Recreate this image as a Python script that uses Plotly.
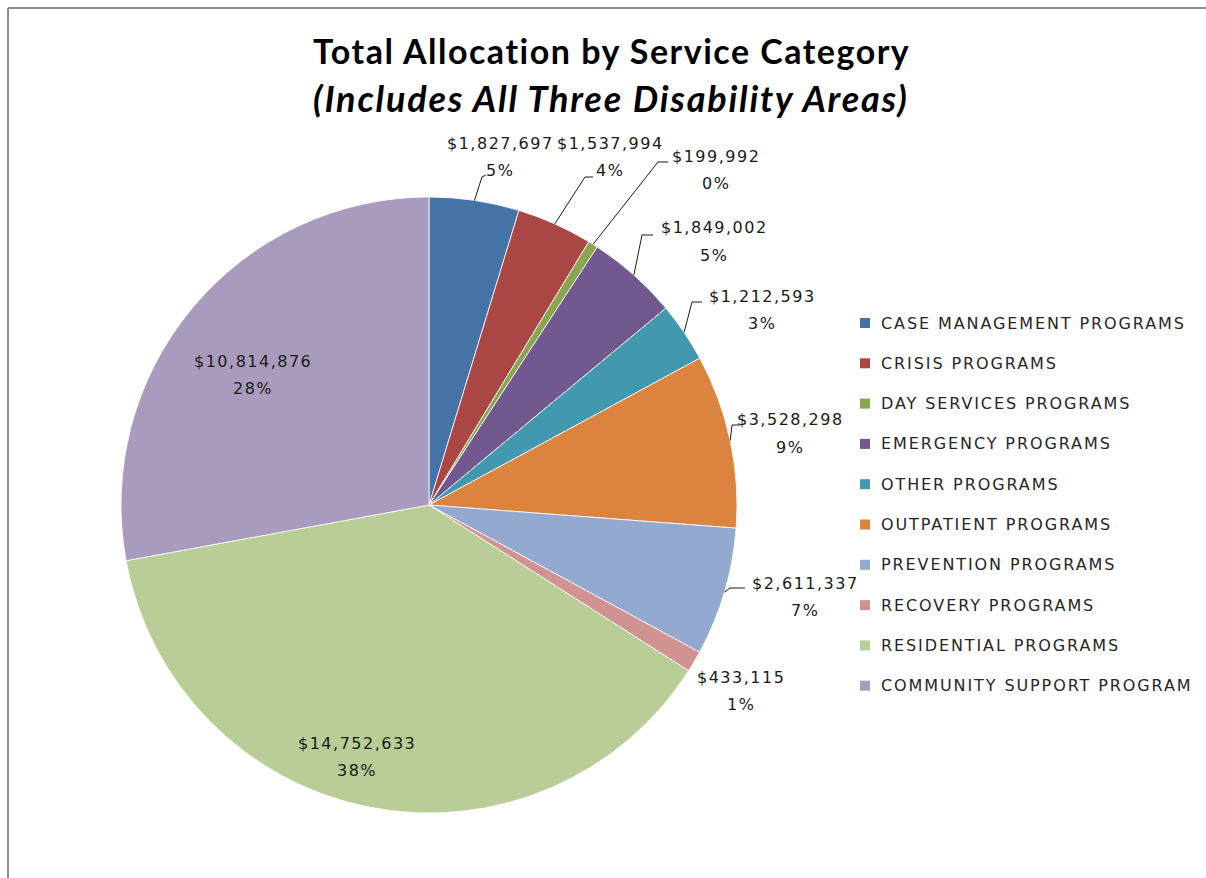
import math
import plotly.graph_objects as go

W, H = 1206, 878

# Service categories, allocations and the rounded shares shown on the chart
categories = [
    "CASE MANAGEMENT PROGRAMS",
    "CRISIS PROGRAMS",
    "DAY SERVICES PROGRAMS",
    "EMERGENCY PROGRAMS",
    "OTHER PROGRAMS",
    "OUTPATIENT PROGRAMS",
    "PREVENTION PROGRAMS",
    "RECOVERY PROGRAMS",
    "RESIDENTIAL PROGRAMS",
    "COMMUNITY SUPPORT PROGRAM",
]
allocations = [1827697, 1537994, 199992, 1849002, 1212593,
               3528298, 2611337, 433115, 14752633, 10814876]
pct_labels = ["5%", "4%", "0%", "5%", "3%", "9%", "7%", "1%", "38%", "28%"]

colors = ["#4572A7", "#AA4643", "#89A54E", "#71588F", "#4198AF",
          "#DB843D", "#93A9CF", "#D19392", "#B9CD96", "#A99BBD"]

# Pie placement in pixels
CX, CY, R = 429, 505, 308

# Label block centres (value line) in pixels, and leader line elbow/end points
label_pos = [(500, 143), (610, 143), (716, 156), (714, 228), (762, 296),
             (790, 420), (805, 583), (741, 677), (357, 743), (253, 362)]
leaders = {
    0: [(482, 177), (486, 175)],
    1: [(585, 177), (593, 177)],
    2: [(658, 162), (668, 162)],
    3: [(642, 235), (653, 235)],
    4: [(692, 302), (702, 302)],
    5: [(732, 425), (740, 425)],
    6: [(730, 588), (745, 588)],
}
LINE_GAP = 27


def px(x):
    return x / W


def py(y):
    return 1 - y / H


def spaced(text, gap):
    return f'<span style="letter-spacing:{gap}px">{text}</span>'


fig = go.Figure(
    go.Pie(
        labels=categories,
        values=allocations,
        sort=False,
        direction="clockwise",
        rotation=0,
        marker=dict(colors=colors, line=dict(color="white", width=0.8)),
        textinfo="none",
        hoverinfo="label+value+percent",
        showlegend=False,
        domain=dict(x=[px(CX - R), px(CX + R)], y=[py(CY + R), py(CY - R)]),
    )
)

label_font = dict(family="DejaVu Sans", size=16, color="#1a1a1a")
annotations = []
shapes = []

total = sum(allocations)
cum = 0.0
for i, v in enumerate(allocations):
    mid = (cum + v / 2) / total
    cum += v
    lx, ly = label_pos[i]
    annotations.append(dict(x=px(lx), y=py(ly), xref="paper", yref="paper",
                            text=spaced(f"${v:,}", 1.5), showarrow=False, font=label_font,
                            xanchor="center", yanchor="middle"))
    annotations.append(dict(x=px(lx), y=py(ly + LINE_GAP), xref="paper", yref="paper",
                            text=spaced(pct_labels[i], 1.5), showarrow=False, font=label_font,
                            xanchor="center", yanchor="middle"))
    if i in leaders:
        ang = 2 * math.pi * mid
        ax = CX + R * math.sin(ang)
        ay = CY - R * math.cos(ang)
        pts = [(ax, ay)] + leaders[i]
        path = "M " + " L ".join(f"{px(x):.5f},{py(y):.5f}" for x, y in pts)
        shapes.append(dict(type="path", path=path, xref="paper", yref="paper",
                           line=dict(color="#1a1a1a", width=1)))

# Legend: colour squares and category names
LEG_X, LEG_Y0, LEG_DY, SQ = 860, 323, 40.3, 10
for i, name in enumerate(categories):
    yc = LEG_Y0 + i * LEG_DY
    shapes.append(dict(type="rect", xref="paper", yref="paper",
                       x0=px(LEG_X), x1=px(LEG_X + SQ),
                       y0=py(yc + SQ / 2), y1=py(yc - SQ / 2),
                       fillcolor=colors[i], line=dict(width=0)))
    annotations.append(dict(x=px(LEG_X + 19), y=py(yc), xref="paper", yref="paper",
                            text=spaced(name, 1.9),
                            showarrow=False, xanchor="left", yanchor="middle",
                            font=dict(family="DejaVu Sans", size=16, color="#262626")))

# Title lines
annotations.append(dict(x=px(611), y=py(50), xref="paper", yref="paper",
                        text=spaced("<b>Total Allocation by Service Category</b>", 1.5),
                        showarrow=False, xanchor="center", yanchor="middle",
                        font=dict(family="Lato", size=34, color="#000000")))
annotations.append(dict(x=px(611), y=py(98), xref="paper", yref="paper",
                        text=spaced("<b><i>(Includes All Three Disability Areas)</i></b>", 1.8),
                        showarrow=False, xanchor="center", yanchor="middle",
                        font=dict(family="Lato", size=36, color="#000000")))

# Chart frame: top and left edges
shapes.append(dict(type="line", xref="paper", yref="paper",
                   x0=px(8), x1=1, y0=py(8), y1=py(8),
                   line=dict(color="#8c8c8c", width=2)))
shapes.append(dict(type="line", xref="paper", yref="paper",
                   x0=px(8), x1=px(8), y0=py(8), y1=0,
                   line=dict(color="#8c8c8c", width=2)))

fig.update_layout(
    width=W, height=H,
    margin=dict(l=0, r=0, t=0, b=0),
    paper_bgcolor="white",
    plot_bgcolor="white",
    annotations=annotations,
    shapes=shapes,
)

fig.write_html("out.html")
